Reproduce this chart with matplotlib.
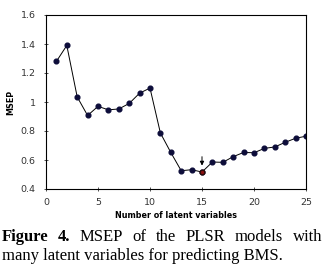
import numpy as np
import matplotlib.pyplot as plt

n_lv = np.arange(1, 26)
msep = [1.28, 1.39, 1.035, 0.907, 0.97, 0.946, 0.952, 0.99, 1.061, 1.096,
        0.786, 0.652, 0.526, 0.533, 0.517, 0.586, 0.584, 0.623, 0.652, 0.65,
        0.68, 0.69, 0.722, 0.75, 0.764]
best = 15
xticks = [0, 5, 10, 15, 20, 25]
yticks = [0.4, 0.6, 0.8, 1.0, 1.2, 1.4, 1.6]
yticklabels = ['0.4', '0.6', '0.8', '1', '1.2', '1.4', '1.6']
caption_1 = [('Figure', 'bold'), ('4.', 'bold'), ('MSEP', 'normal'), ('of', 'normal'),
             ('the', 'normal'), ('PLSR', 'normal'), ('models', 'normal'), ('with', 'normal')]
caption_2 = 'many latent variables for predicting BMS.'

W, H = 325, 269
fig = plt.figure(figsize=(W / 100, H / 100), dpi=100)
ax = fig.add_axes([46 / W, 1 - 189 / H, 260 / W, 174 / H])

ax.plot(n_lv, msep, 'k-', lw=0.7, zorder=1)
ax.plot(n_lv, msep, 'o', ms=3.4, mfc='#0d0d3a', mec='#0d0d3a', zorder=2)
ax.plot([best], [msep[best - 1]], 'o', ms=3.4, mfc='#8b1010', mec='#2a0a0a', zorder=3)
ax.annotate('', xy=(best, msep[best - 1] + 0.025), xytext=(best, msep[best - 1] + 0.125),
            arrowprops=dict(arrowstyle='-|>', color='k', lw=0.7, mutation_scale=6))

ax.set_xlim(0, 25)
ax.set_ylim(0.4, 1.6)
ax.set_xticks(xticks)
ax.set_yticks(yticks)
ax.set_yticklabels(yticklabels)
ax.tick_params(labelsize=6.8, length=3, width=0.6, colors='#333333', direction='inout')
ax.tick_params(axis='x', pad=5)
ax.tick_params(axis='y', pad=6)
for s in ax.spines.values():
    s.set_linewidth(0.8)
ax.set_xlabel('Number of latent variables', fontsize=5.8, fontweight='bold', labelpad=3)
ax.set_ylabel('MSEP', fontsize=5.8, fontweight='bold', labelpad=4)

# justified caption, first line spread across the full width
fam = 'Liberation Serif'
fs = 12
renderer = fig.canvas.get_renderer()
left, right = 2, 322
words = []
for w, wt in caption_1:
    t = fig.text(0, 1 - 241 / H, w, fontsize=fs, fontweight=wt, family=fam, va='baseline')
    words.append((t, t.get_window_extent(renderer).width))
gap = (right - left - sum(wd for _, wd in words)) / (len(words) - 1)
x = left
for t, wd in words:
    t.set_x(x / W)
    x += wd + gap
fig.text(left / W, 1 - 260 / H, caption_2, fontsize=fs, family=fam, va='baseline')

fig.savefig('out.png', dpi=100)
